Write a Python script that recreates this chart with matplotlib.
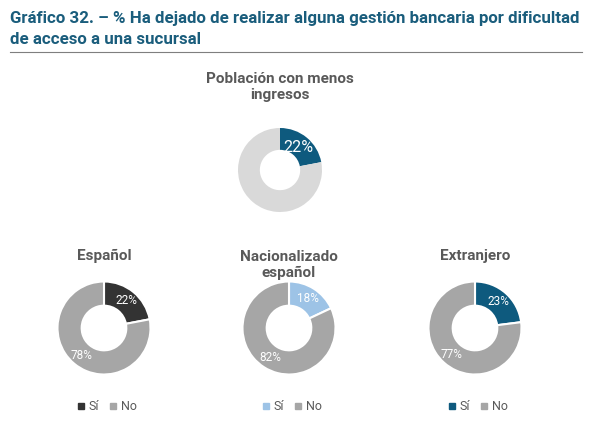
import matplotlib
matplotlib.use('Agg')
import matplotlib.pyplot as plt
from matplotlib.lines import Line2D

# data
title = 'Gráfico 32. – % Ha dejado de realizar alguna gestión bancaria por dificultad\nde acceso a una sucursal'
top_name = 'Población con menos\ningresos'
top_vals = [22, 78]
groups = ['Español', 'Nacionalizado\nespañol', 'Extranjero']
si_vals = [22, 18, 23]
no_vals = [78, 82, 77]
legend_labels = ['Sí', 'No']

# styles
W, H = 594, 429
teal = '#1a5d7c'
grey_txt = '#595959'
si_colors = ['#333333', '#9dc3e6', '#0e5a7e']
no_color = '#a6a6a6'
plt.rcParams['font.family'] = ['Roboto', 'DejaVu Sans']

fig = plt.figure(figsize=(W / 100, H / 100), dpi=100)
fig.patch.set_facecolor('white')

def px(x, y):
    return x / W, 1 - y / H

def donut_ax(cx, cy, r):
    ax = fig.add_axes([(cx - r) / W, 1 - (cy + r) / H, 2 * r / W, 2 * r / H])
    ax.axis('off')
    return ax

def fix(ax):
    ax.set_xlim(-1, 1)
    ax.set_ylim(-1, 1)
    ax.set_aspect('equal', adjustable='box')

# title + rule
fig.text(*px(10, 29), title, fontsize=12.2, fontweight='bold', color=teal,
         ha='left', va='center', linespacing=1.5)
fig.add_artist(Line2D([10 / W, 582 / W], [1 - 52 / H, 1 - 52 / H], color='#7f7f7f', lw=0.8))

# top donut
fig.text(*px(280, 87), top_name, fontsize=11, fontweight='bold', color=grey_txt,
         ha='center', va='center', linespacing=1.25)
ax = donut_ax(280, 170, 42)
w, t, a = ax.pie(top_vals, colors=['#0e5a7e', '#d9d9d9'], startangle=90, counterclock=False,
                 radius=1, wedgeprops=dict(width=0.52, linewidth=0),
                 autopct='%d%%', pctdistance=0.68,
                 textprops=dict(color='white', fontsize=11.5))
a[1].set_visible(False)
fix(ax)

# bottom donuts
centers = [104, 289, 475]
for i, g in enumerate(groups):
    cx = centers[i]
    if '\n' in g:
        fig.text(*px(cx, 265), g, fontsize=11, fontweight='bold', color=grey_txt,
                 ha='center', va='center', linespacing=1.2)
    else:
        fig.text(*px(cx, 256), g, fontsize=11, fontweight='bold', color=grey_txt,
                 ha='center', va='center')
    ax = donut_ax(cx, 328, 46.5)
    ax.pie([si_vals[i], no_vals[i]], colors=[si_colors[i], no_color], startangle=90,
           counterclock=False, radius=1,
           wedgeprops=dict(width=0.52, edgecolor='white', linewidth=1.5),
           autopct='%d%%', pctdistance=0.76,
           textprops=dict(color='white', fontsize=8.5))
    fix(ax)
    handles = [Line2D([], [], marker='s', ls='', markersize=4, color=c)
               for c in [si_colors[i], no_color]]
    fig.legend(handles, legend_labels, loc='center', bbox_to_anchor=px(cx + 3, 407),
               ncol=2, frameon=False, handlelength=0.6, handletextpad=0.3,
               columnspacing=0.8, labelcolor=grey_txt, prop=dict(size=9))

fig.savefig('out.png', dpi=100)
